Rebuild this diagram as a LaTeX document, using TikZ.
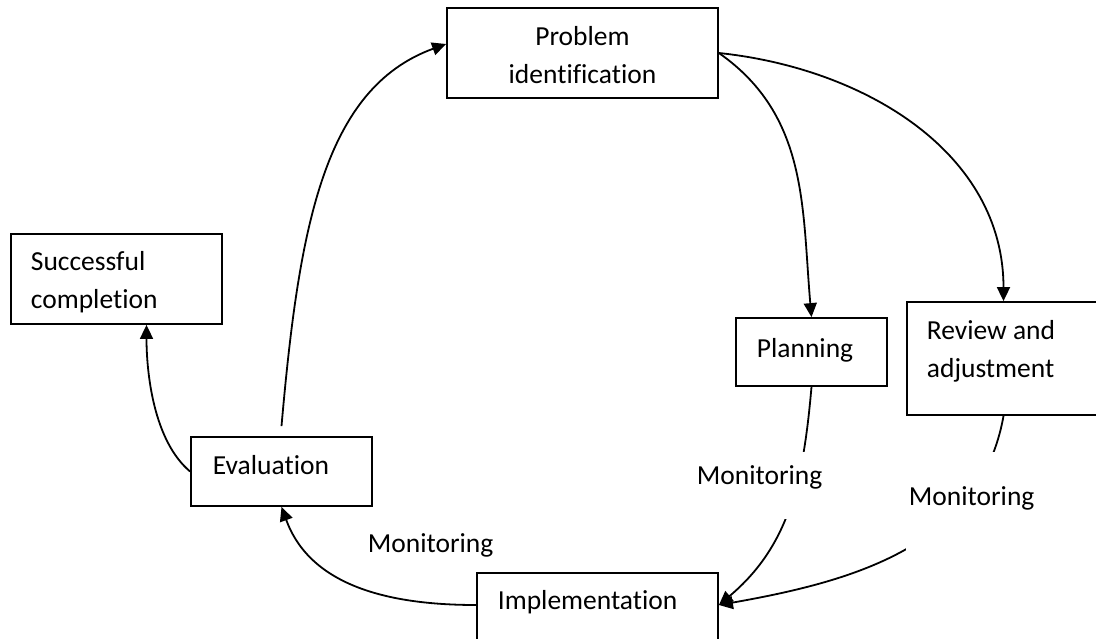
\documentclass[tikz,border=0pt]{standalone}
\usepackage{fontspec}
\setmainfont[Ligatures=NoCommon]{Carlito}
\usetikzlibrary{arrows.meta}
\begin{document}
\begin{tikzpicture}[x=1pt,y=1pt,line width=1.8pt,
    box/.style={draw,rectangle,inner sep=0pt},
    lbl/.style={anchor=base west,inner sep=0pt,align=left,font=\fontsize{27.5}{37.5}\selectfont},
    mon/.style={lbl,fill=white,inner xsep=3pt},
    link/.style={-{Triangle[length=14pt,width=13pt]}}]

    \useasboundingbox (0,0) rectangle (1096,-638);

    \node[box,minimum width=271,minimum height=90] (prob) at (582.5,-53) {};
    \node[box,minimum width=211,minimum height=90] (succ) at (116.5,-279) {};
    \node[box,minimum width=151,minimum height=68] (plan) at (811.5,-352) {};
    \node[box,minimum width=193,minimum height=113] (rev) at (1003.5,-358.5) {};
    \node[box,minimum width=181,minimum height=69] (eval) at (281.5,-471.5) {};
    \node[box,minimum width=241,minimum height=72] (impl) at (597.5,-609) {};

    \node[lbl,anchor=base,align=center] (probtxt) at (582.5,-83) {Problem\\identification};
    \node[lbl] (succtxt) at (30,-308) {Successful\\completion};
    \node[lbl] (plantxt) at (756,-357) {Planning};
    \node[lbl] (revtxt) at (926,-377) {Review and\\adjustment};
    \node[lbl] (evaltxt) at (212,-474) {Evaluation};
    \node[lbl] (impltxt) at (497,-609) {Implementation};

    \draw[link] ([yshift=10]eval.north) to[out=85,in=200,out distance=200,in distance=130] ([yshift=9]prob.west);
    \draw[link] (prob.east) to[out=-35,in=95] (plan.north);
    \draw[link] (prob.east) to[out=-6,in=90] (rev.north);
    \draw[link] (plan.south) to[out=-95,in=40] ([yshift=4]impl.east);
    \draw[link] (rev.south) to[out=-100,in=10] ([yshift=4]impl.east);
    \draw[link] ([yshift=4]impl.west) to[out=180,in=-70] (eval.south);
    \draw[link] (eval.west) to[out=140,in=-90,looseness=0.8] ([xshift=30]succ.south);

    \node[mon,text height=32pt,text depth=35pt] (monplan) at (693,-484) {Monitoring};
    \node[mon,text height=53pt,text depth=47pt] (monrev) at (905,-505) {Monitoring};
    \node[mon,text height=20pt,text depth=8pt] (monimpl) at (364,-552) {Monitoring};
\end{tikzpicture}
\end{document}
